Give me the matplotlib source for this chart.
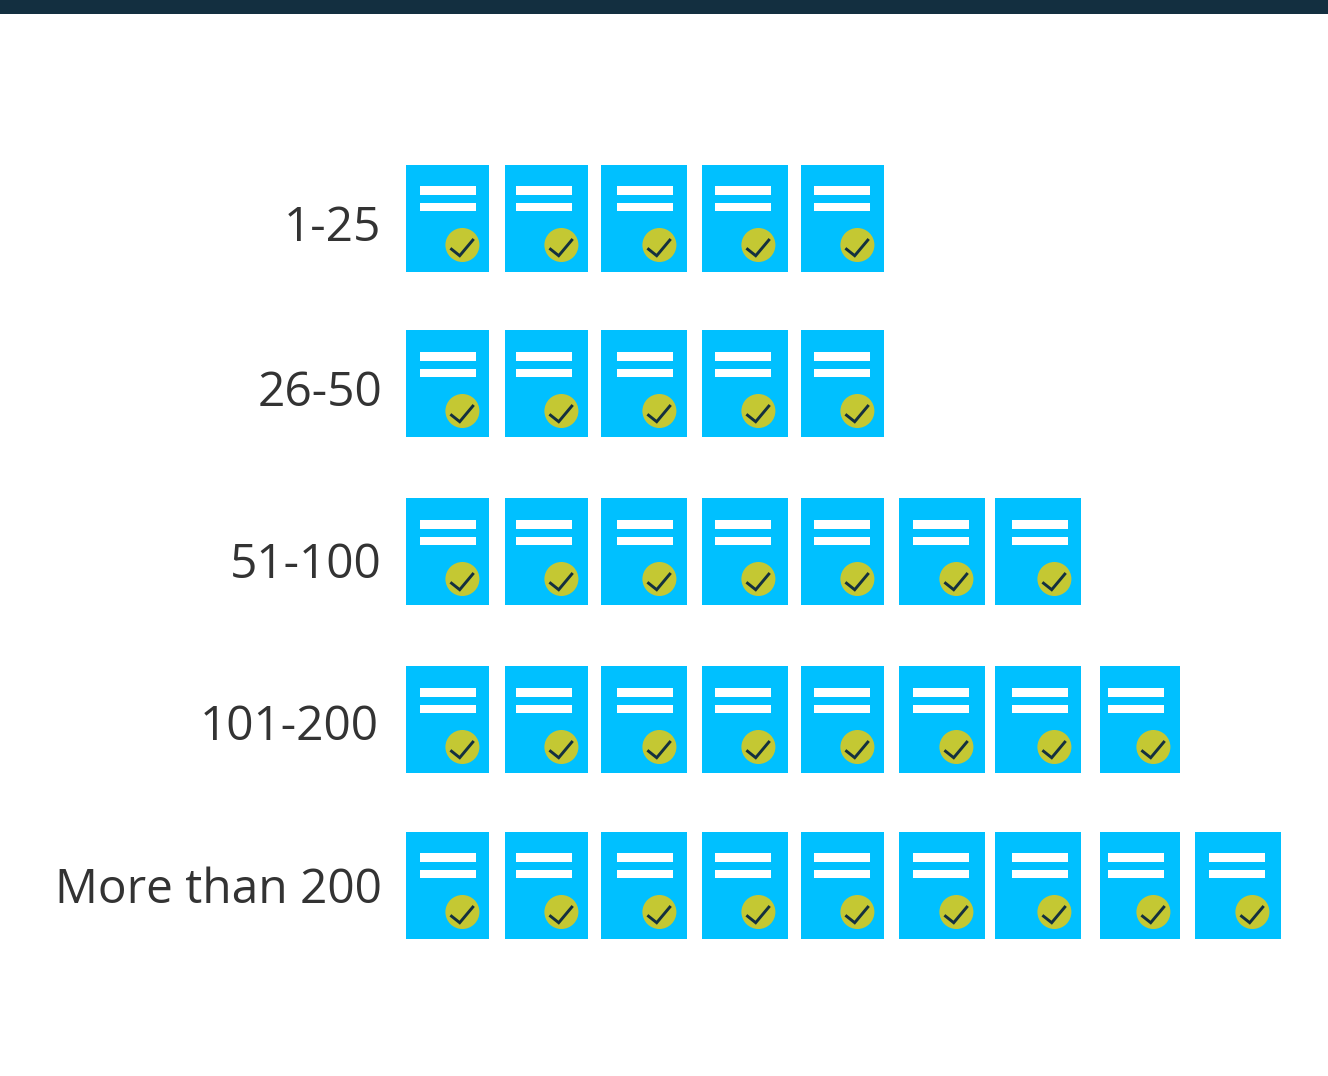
import matplotlib
matplotlib.use('Agg')
import matplotlib.pyplot as plt
from matplotlib.patches import Rectangle, Ellipse

# data
categories = ['1-25', '26-50', '51-100', '101-200', 'More than 200']
icon_counts = [5, 5, 7, 8, 9]

# layout, all in pixels of the 1328x1076 image
W, H = 1328, 1076
x_pitch, y_pitch = 98.6, 166.75
x0, y0 = 406, 165
col_nudge = [0, 0.4, -2.2, 0.2, 0.6, 0, -2.6, 3.8, 0.2]
col_width = [83, 83, 86, 86, 83, 86, 86, 80, 86]
bar_left = [14, 11, 16, 13, 13, 14, 17, 8, 14]
circle_x = [56, 56, 58, 56, 56, 57, 59, 53, 57]
row_nudge = [0, -1.75, -0.5, 0.75, 0]
bar_nudge = [0, 1, 1, 1, 0]
circle_y = [80, 81, 81, 81, 80]
label_right = [381, 382, 382, 379, 382]
label_y = [228.5, 393.5, 565.5, 727.5, 890.5]

BLUE = '#00C0FF'
GREEN = '#C4C833'
DARK = '#14303F'

fig = plt.figure(figsize=(W / 100, H / 100), dpi=100)
ax = fig.add_axes([0, 0, 1, 1])
# x = icon number, y = category number
ax.set_xlim(-x0 / x_pitch, (W - x0) / x_pitch)
ax.set_ylim((H - y0) / y_pitch, -y0 / y_pitch)
ax.axis('off')

fig.add_artist(Rectangle((0, 1 - 14 / H), 1, 14 / H, transform=fig.transFigure,
                         facecolor='#132F40', edgecolor='none'))


def px(v):
    return v / x_pitch


def py(v):
    return v / y_pitch


for row, (name, count) in enumerate(zip(categories, icon_counts)):
    ytop = row + py(row_nudge[row])
    ax.text(px(label_right[row] - x0), py(label_y[row] - y0), name, ha='right',
            va='center', fontsize=34.4, family='Open Sans', color='#333333')
    for col in range(count):
        xleft = col + px(col_nudge[col])
        ax.add_patch(Rectangle((xleft, ytop), px(col_width[col]), py(107),
                               facecolor=BLUE, edgecolor='none'))
        # two text lines on the sheet
        for off, h in [(21, 9), (38, 8)]:
            ax.add_patch(Rectangle((xleft + px(bar_left[col]), ytop + py(off + bar_nudge[row])),
                                   px(56), py(h), facecolor='white', edgecolor='none'))
        # check mark badge
        cx = xleft + px(circle_x[col] + 0.4)
        cy = ytop + py(circle_y[row])
        ax.add_patch(Ellipse((cx, cy), px(34), py(34), facecolor=GREEN, edgecolor='none'))
        ax.plot([cx + px(-12), cx + px(-2.7), cx + px(11.3)],
                [cy + py(3.3), cy + py(10.7), cy + py(-6)],
                color=DARK, lw=2.1, solid_joinstyle='miter', solid_capstyle='butt')

fig.savefig('out.png', dpi=100)
